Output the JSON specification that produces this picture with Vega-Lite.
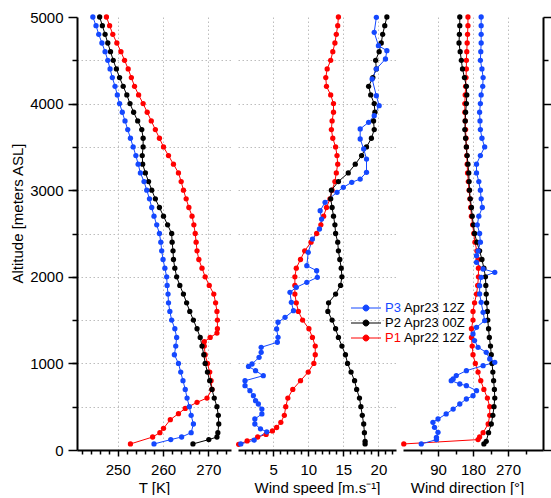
{
  "$schema": "https://vega.github.io/schema/vega-lite/v6.json",
  "background": "white",
  "padding": {"left": 10, "top": 10, "right": 0, "bottom": 0},
  "config": {
    "view": {"stroke": null},
    "axis": {
      "domainColor": "black", "domainWidth": 2, "tickColor": "black", "tickWidth": 1.5,
      "labelFont": "Liberation Sans", "labelFontSize": 15, "labelColor": "black",
      "titleFont": "Liberation Sans", "titleFontSize": 15, "titleFontWeight": "normal", "titleColor": "black",
      "gridColor": "#bdbdbd", "gridDash": [1.5, 2.5], "gridWidth": 1
    },
    "legend": {"labelFont": "Liberation Sans", "labelFontSize": 13, "labelColor": "black", "padding": 0}
  },
  "datasets": {
    "dates": [
      {"p": "P1", "d": "Apr22 12Z"}, {"p": "P2", "d": "Apr23 00Z"}, {"p": "P3", "d": "Apr23 12Z"}
    ],
    "t": [
      {"p":"P1","a":70,"v":252.8},{"p":"P1","a":150,"v":257.7},{"p":"P1","a":200,"v":259.3},{"p":"P1","a":250,"v":260.1},{"p":"P1","a":350,"v":261.6},{"p":"P1","a":420,"v":263.4},{"p":"P1","a":480,"v":264.9},{"p":"P1","a":550,"v":267.5},{"p":"P1","a":600,"v":269.7},{"p":"P1","a":700,"v":270.8},{"p":"P1","a":800,"v":270.6},{"p":"P1","a":900,"v":270.3},{"p":"P1","a":1000,"v":269.8},{"p":"P1","a":1100,"v":269.3},{"p":"P1","a":1200,"v":269.1},{"p":"P1","a":1250,"v":269.1},{"p":"P1","a":1300,"v":270.4},{"p":"P1","a":1350,"v":271.9},{"p":"P1","a":1400,"v":272.0},{"p":"P1","a":1500,"v":272.0},{"p":"P1","a":1600,"v":271.9},{"p":"P1","a":1700,"v":271.6},{"p":"P1","a":1800,"v":271.2},{"p":"P1","a":1900,"v":270.2},{"p":"P1","a":2000,"v":269.3},{"p":"P1","a":2100,"v":268.6},{"p":"P1","a":2200,"v":267.9},{"p":"P1","a":2300,"v":267.5},{"p":"P1","a":2400,"v":267.3},{"p":"P1","a":2500,"v":267.1},{"p":"P1","a":2600,"v":266.8},{"p":"P1","a":2700,"v":266.4},{"p":"P1","a":2800,"v":265.7},{"p":"P1","a":2900,"v":265.1},{"p":"P1","a":3000,"v":264.5},{"p":"P1","a":3100,"v":264.0},{"p":"P1","a":3200,"v":263.4},{"p":"P1","a":3300,"v":262.3},{"p":"P1","a":3400,"v":261.2},{"p":"P1","a":3500,"v":260.1},{"p":"P1","a":3600,"v":259.2},{"p":"P1","a":3700,"v":258.3},{"p":"P1","a":3800,"v":257.4},{"p":"P1","a":3900,"v":256.5},{"p":"P1","a":4000,"v":255.6},{"p":"P1","a":4100,"v":254.6},{"p":"P1","a":4200,"v":253.7},{"p":"P1","a":4300,"v":253.0},{"p":"P1","a":4400,"v":252.3},{"p":"P1","a":4500,"v":251.5},{"p":"P1","a":4600,"v":250.7},{"p":"P1","a":4700,"v":249.8},{"p":"P1","a":4800,"v":248.9},{"p":"P1","a":4900,"v":248.2},{"p":"P1","a":5000,"v":247.5},
      {"p":"P2","a":70,"v":266.6},{"p":"P2","a":120,"v":270.1},{"p":"P2","a":150,"v":271.9},{"p":"P2","a":200,"v":272.1},{"p":"P2","a":300,"v":272.3},{"p":"P2","a":400,"v":272.2},{"p":"P2","a":500,"v":271.9},{"p":"P2","a":600,"v":271.3},{"p":"P2","a":700,"v":270.8},{"p":"P2","a":800,"v":270.3},{"p":"P2","a":900,"v":269.8},{"p":"P2","a":1000,"v":269.3},{"p":"P2","a":1100,"v":269.0},{"p":"P2","a":1200,"v":268.6},{"p":"P2","a":1300,"v":268.2},{"p":"P2","a":1400,"v":267.5},{"p":"P2","a":1500,"v":266.7},{"p":"P2","a":1600,"v":265.9},{"p":"P2","a":1700,"v":265.2},{"p":"P2","a":1800,"v":264.5},{"p":"P2","a":1900,"v":263.7},{"p":"P2","a":2000,"v":263.0},{"p":"P2","a":2100,"v":262.6},{"p":"P2","a":2200,"v":262.3},{"p":"P2","a":2300,"v":262.2},{"p":"P2","a":2400,"v":262.0},{"p":"P2","a":2500,"v":261.9},{"p":"P2","a":2600,"v":261.0},{"p":"P2","a":2700,"v":260.1},{"p":"P2","a":2800,"v":259.2},{"p":"P2","a":2900,"v":258.3},{"p":"P2","a":3000,"v":257.5},{"p":"P2","a":3100,"v":256.8},{"p":"P2","a":3200,"v":256.1},{"p":"P2","a":3300,"v":255.5},{"p":"P2","a":3400,"v":255.4},{"p":"P2","a":3500,"v":255.6},{"p":"P2","a":3600,"v":255.6},{"p":"P2","a":3700,"v":255.3},{"p":"P2","a":3800,"v":254.4},{"p":"P2","a":3900,"v":253.5},{"p":"P2","a":4000,"v":252.7},{"p":"P2","a":4100,"v":252.0},{"p":"P2","a":4200,"v":251.2},{"p":"P2","a":4300,"v":250.4},{"p":"P2","a":4400,"v":249.7},{"p":"P2","a":4500,"v":249.0},{"p":"P2","a":4600,"v":248.4},{"p":"P2","a":4700,"v":247.8},{"p":"P2","a":4800,"v":247.2},{"p":"P2","a":4900,"v":246.6},{"p":"P2","a":5000,"v":246.0},
      {"p":"P3","a":70,"v":258.0},{"p":"P3","a":120,"v":261.7},{"p":"P3","a":150,"v":264.1},{"p":"P3","a":200,"v":266.2},{"p":"P3","a":300,"v":266.7},{"p":"P3","a":400,"v":266.2},{"p":"P3","a":500,"v":265.8},{"p":"P3","a":600,"v":265.3},{"p":"P3","a":700,"v":264.9},{"p":"P3","a":800,"v":264.4},{"p":"P3","a":900,"v":263.9},{"p":"P3","a":1000,"v":263.4},{"p":"P3","a":1100,"v":262.5},{"p":"P3","a":1200,"v":262.8},{"p":"P3","a":1300,"v":263.0},{"p":"P3","a":1400,"v":262.6},{"p":"P3","a":1500,"v":261.9},{"p":"P3","a":1600,"v":261.5},{"p":"P3","a":1700,"v":261.2},{"p":"P3","a":1800,"v":261.1},{"p":"P3","a":1900,"v":260.9},{"p":"P3","a":2000,"v":260.8},{"p":"P3","a":2100,"v":260.4},{"p":"P3","a":2200,"v":260.0},{"p":"P3","a":2300,"v":259.7},{"p":"P3","a":2400,"v":259.5},{"p":"P3","a":2500,"v":259.2},{"p":"P3","a":2600,"v":258.6},{"p":"P3","a":2700,"v":258.0},{"p":"P3","a":2800,"v":257.5},{"p":"P3","a":2900,"v":257.0},{"p":"P3","a":3000,"v":256.4},{"p":"P3","a":3100,"v":255.8},{"p":"P3","a":3200,"v":255.0},{"p":"P3","a":3300,"v":254.5},{"p":"P3","a":3400,"v":254.0},{"p":"P3","a":3500,"v":253.4},{"p":"P3","a":3600,"v":252.8},{"p":"P3","a":3700,"v":252.2},{"p":"P3","a":3800,"v":251.6},{"p":"P3","a":3900,"v":251.0},{"p":"P3","a":4000,"v":250.4},{"p":"P3","a":4100,"v":249.9},{"p":"P3","a":4200,"v":249.4},{"p":"P3","a":4300,"v":248.8},{"p":"P3","a":4400,"v":248.3},{"p":"P3","a":4500,"v":247.8},{"p":"P3","a":4600,"v":247.2},{"p":"P3","a":4700,"v":246.5},{"p":"P3","a":4800,"v":245.8},{"p":"P3","a":4900,"v":245.2},{"p":"P3","a":5000,"v":244.5}
    ],
    "ws": [
      {"p":"P1","a":65,"v":0.1},{"p":"P1","a":105,"v":1.3},{"p":"P1","a":150,"v":2.8},{"p":"P1","a":180,"v":4.0},{"p":"P1","a":220,"v":4.9},{"p":"P1","a":260,"v":5.5},{"p":"P1","a":320,"v":6.1},{"p":"P1","a":400,"v":6.6},{"p":"P1","a":500,"v":6.8},{"p":"P1","a":600,"v":7.1},{"p":"P1","a":700,"v":7.8},{"p":"P1","a":800,"v":8.9},{"p":"P1","a":900,"v":10.0},{"p":"P1","a":1000,"v":10.8},{"p":"P1","a":1100,"v":11.0},{"p":"P1","a":1200,"v":11.0},{"p":"P1","a":1300,"v":10.6},{"p":"P1","a":1400,"v":10.1},{"p":"P1","a":1500,"v":9.2},{"p":"P1","a":1600,"v":8.6},{"p":"P1","a":1700,"v":8.3},{"p":"P1","a":1800,"v":8.1},{"p":"P1","a":1900,"v":8.1},{"p":"P1","a":2000,"v":8.1},{"p":"P1","a":2100,"v":8.3},{"p":"P1","a":2200,"v":8.9},{"p":"P1","a":2300,"v":9.5},{"p":"P1","a":2400,"v":10.4},{"p":"P1","a":2500,"v":11.2},{"p":"P1","a":2600,"v":11.8},{"p":"P1","a":2700,"v":12.2},{"p":"P1","a":2800,"v":12.6},{"p":"P1","a":2900,"v":13.1},{"p":"P1","a":3000,"v":13.4},{"p":"P1","a":3100,"v":13.8},{"p":"P1","a":3200,"v":14.0},{"p":"P1","a":3300,"v":14.2},{"p":"P1","a":3400,"v":14.1},{"p":"P1","a":3500,"v":13.9},{"p":"P1","a":3600,"v":13.5},{"p":"P1","a":3700,"v":13.3},{"p":"P1","a":3800,"v":13.4},{"p":"P1","a":3900,"v":13.6},{"p":"P1","a":4000,"v":13.6},{"p":"P1","a":4100,"v":13.2},{"p":"P1","a":4200,"v":12.6},{"p":"P1","a":4300,"v":12.5},{"p":"P1","a":4400,"v":12.7},{"p":"P1","a":4500,"v":13.2},{"p":"P1","a":4600,"v":13.5},{"p":"P1","a":4700,"v":13.8},{"p":"P1","a":4800,"v":14.0},{"p":"P1","a":4900,"v":14.2},{"p":"P1","a":5000,"v":14.3},
      {"p":"P2","a":70,"v":18.1},{"p":"P2","a":100,"v":18.1},{"p":"P2","a":200,"v":18.0},{"p":"P2","a":300,"v":17.9},{"p":"P2","a":400,"v":17.7},{"p":"P2","a":500,"v":17.5},{"p":"P2","a":600,"v":17.3},{"p":"P2","a":700,"v":16.9},{"p":"P2","a":800,"v":16.6},{"p":"P2","a":900,"v":16.1},{"p":"P2","a":1000,"v":15.6},{"p":"P2","a":1100,"v":15.3},{"p":"P2","a":1200,"v":14.8},{"p":"P2","a":1300,"v":14.3},{"p":"P2","a":1400,"v":13.9},{"p":"P2","a":1500,"v":13.4},{"p":"P2","a":1600,"v":12.8},{"p":"P2","a":1700,"v":12.9},{"p":"P2","a":1800,"v":13.9},{"p":"P2","a":1900,"v":14.6},{"p":"P2","a":2000,"v":14.8},{"p":"P2","a":2100,"v":14.7},{"p":"P2","a":2200,"v":14.5},{"p":"P2","a":2300,"v":14.3},{"p":"P2","a":2400,"v":14.2},{"p":"P2","a":2500,"v":13.9},{"p":"P2","a":2600,"v":13.8},{"p":"P2","a":2700,"v":13.6},{"p":"P2","a":2800,"v":13.4},{"p":"P2","a":2900,"v":13.2},{"p":"P2","a":3000,"v":13.3},{"p":"P2","a":3100,"v":14.3},{"p":"P2","a":3200,"v":15.7},{"p":"P2","a":3300,"v":16.7},{"p":"P2","a":3400,"v":17.6},{"p":"P2","a":3500,"v":18.3},{"p":"P2","a":3600,"v":19.0},{"p":"P2","a":3700,"v":19.4},{"p":"P2","a":3800,"v":19.3},{"p":"P2","a":3900,"v":19.5},{"p":"P2","a":4000,"v":19.4},{"p":"P2","a":4100,"v":18.9},{"p":"P2","a":4200,"v":18.6},{"p":"P2","a":4300,"v":19.2},{"p":"P2","a":4400,"v":19.7},{"p":"P2","a":4500,"v":19.6},{"p":"P2","a":4600,"v":20.1},{"p":"P2","a":4700,"v":20.4},{"p":"P2","a":4800,"v":20.6},{"p":"P2","a":4900,"v":20.9},{"p":"P2","a":5000,"v":21.2},
      {"p":"P3","a":70,"v":0.4},{"p":"P3","a":115,"v":2.3},{"p":"P3","a":210,"v":4.1},{"p":"P3","a":245,"v":3.2},{"p":"P3","a":300,"v":2.4},{"p":"P3","a":358,"v":2.4},{"p":"P3","a":416,"v":3.4},{"p":"P3","a":473,"v":3.4},{"p":"P3","a":531,"v":2.9},{"p":"P3","a":570,"v":2.5},{"p":"P3","a":627,"v":2.2},{"p":"P3","a":685,"v":1.7},{"p":"P3","a":743,"v":1.0},{"p":"P3","a":800,"v":1.0},{"p":"P3","a":858,"v":3.6},{"p":"P3","a":916,"v":2.5},{"p":"P3","a":965,"v":1.5},{"p":"P3","a":993,"v":2.0},{"p":"P3","a":1070,"v":3.0},{"p":"P3","a":1128,"v":3.3},{"p":"P3","a":1186,"v":3.3},{"p":"P3","a":1244,"v":5.6},{"p":"P3","a":1301,"v":5.7},{"p":"P3","a":1397,"v":5.5},{"p":"P3","a":1475,"v":5.7},{"p":"P3","a":1532,"v":6.7},{"p":"P3","a":1609,"v":7.9},{"p":"P3","a":1705,"v":7.6},{"p":"P3","a":1821,"v":7.4},{"p":"P3","a":1878,"v":8.3},{"p":"P3","a":1936,"v":9.8},{"p":"P3","a":1994,"v":11.3},{"p":"P3","a":2071,"v":11.2},{"p":"P3","a":2128,"v":9.8},{"p":"P3","a":2283,"v":10.0},{"p":"P3","a":2436,"v":10.6},{"p":"P3","a":2552,"v":11.6},{"p":"P3","a":2667,"v":11.9},{"p":"P3","a":2763,"v":11.7},{"p":"P3","a":2860,"v":12.4},{"p":"P3","a":2976,"v":14.1},{"p":"P3","a":3033,"v":15.0},{"p":"P3","a":3091,"v":16.2},{"p":"P3","a":3129,"v":17.4},{"p":"P3","a":3207,"v":18.3},{"p":"P3","a":3360,"v":18.3},{"p":"P3","a":3476,"v":17.9},{"p":"P3","a":3591,"v":17.4},{"p":"P3","a":3707,"v":17.4},{"p":"P3","a":3784,"v":18.6},{"p":"P3","a":3860,"v":19.4},{"p":"P3","a":3976,"v":20.1},{"p":"P3","a":4091,"v":19.7},{"p":"P3","a":4284,"v":19.1},{"p":"P3","a":4400,"v":19.7},{"p":"P3","a":4515,"v":21.0},{"p":"P3","a":4611,"v":21.2},{"p":"P3","a":4669,"v":20.0},{"p":"P3","a":4823,"v":19.4},{"p":"P3","a":4996,"v":19.7}
    ],
    "wd": [
      {"p":"P1","a":70,"v":2},{"p":"P1","a":120,"v":193},{"p":"P1","a":150,"v":197},{"p":"P1","a":200,"v":206},{"p":"P1","a":300,"v":219},{"p":"P1","a":400,"v":223},{"p":"P1","a":500,"v":223},{"p":"P1","a":600,"v":217},{"p":"P1","a":700,"v":208},{"p":"P1","a":800,"v":200},{"p":"P1","a":900,"v":193},{"p":"P1","a":1000,"v":186},{"p":"P1","a":1100,"v":180},{"p":"P1","a":1200,"v":178},{"p":"P1","a":1300,"v":176},{"p":"P1","a":1400,"v":176},{"p":"P1","a":1500,"v":180},{"p":"P1","a":1600,"v":180},{"p":"P1","a":1700,"v":184},{"p":"P1","a":1800,"v":189},{"p":"P1","a":1900,"v":192},{"p":"P1","a":2000,"v":194},{"p":"P1","a":2100,"v":194},{"p":"P1","a":2200,"v":193},{"p":"P1","a":2300,"v":190},{"p":"P1","a":2400,"v":185},{"p":"P1","a":2500,"v":182},{"p":"P1","a":2600,"v":179},{"p":"P1","a":2700,"v":176},{"p":"P1","a":2800,"v":174},{"p":"P1","a":2900,"v":172},{"p":"P1","a":3000,"v":170},{"p":"P1","a":3100,"v":168},{"p":"P1","a":3200,"v":166},{"p":"P1","a":3300,"v":165},{"p":"P1","a":3400,"v":164},{"p":"P1","a":3500,"v":163},{"p":"P1","a":3600,"v":162},{"p":"P1","a":3700,"v":161},{"p":"P1","a":3800,"v":160},{"p":"P1","a":3900,"v":159},{"p":"P1","a":4000,"v":159},{"p":"P1","a":4100,"v":160},{"p":"P1","a":4200,"v":161},{"p":"P1","a":4300,"v":162},{"p":"P1","a":4400,"v":163},{"p":"P1","a":4500,"v":163},{"p":"P1","a":4600,"v":164},{"p":"P1","a":4700,"v":165},{"p":"P1","a":4800,"v":166},{"p":"P1","a":4900,"v":167},{"p":"P1","a":5000,"v":167},
      {"p":"P2","a":70,"v":208},{"p":"P2","a":100,"v":214},{"p":"P2","a":200,"v":220},{"p":"P2","a":300,"v":227},{"p":"P2","a":400,"v":231},{"p":"P2","a":500,"v":234},{"p":"P2","a":600,"v":236},{"p":"P2","a":700,"v":235},{"p":"P2","a":800,"v":233},{"p":"P2","a":900,"v":231},{"p":"P2","a":1000,"v":229},{"p":"P2","a":1100,"v":227},{"p":"P2","a":1200,"v":225},{"p":"P2","a":1300,"v":222},{"p":"P2","a":1400,"v":220},{"p":"P2","a":1500,"v":218},{"p":"P2","a":1600,"v":217},{"p":"P2","a":1700,"v":215},{"p":"P2","a":1800,"v":214},{"p":"P2","a":1900,"v":213},{"p":"P2","a":2000,"v":212},{"p":"P2","a":2100,"v":208},{"p":"P2","a":2200,"v":203},{"p":"P2","a":2300,"v":197},{"p":"P2","a":2400,"v":190},{"p":"P2","a":2500,"v":184},{"p":"P2","a":2600,"v":181},{"p":"P2","a":2700,"v":178},{"p":"P2","a":2800,"v":176},{"p":"P2","a":2900,"v":173},{"p":"P2","a":3000,"v":171},{"p":"P2","a":3100,"v":170},{"p":"P2","a":3200,"v":169},{"p":"P2","a":3300,"v":167},{"p":"P2","a":3400,"v":165},{"p":"P2","a":3500,"v":163},{"p":"P2","a":3600,"v":161},{"p":"P2","a":3700,"v":159},{"p":"P2","a":3800,"v":160},{"p":"P2","a":3900,"v":161},{"p":"P2","a":4000,"v":163},{"p":"P2","a":4100,"v":164},{"p":"P2","a":4200,"v":163},{"p":"P2","a":4300,"v":158},{"p":"P2","a":4400,"v":153},{"p":"P2","a":4500,"v":150},{"p":"P2","a":4600,"v":147},{"p":"P2","a":4700,"v":144},{"p":"P2","a":4800,"v":145},{"p":"P2","a":4900,"v":146},{"p":"P2","a":5000,"v":146},
      {"p":"P3","a":70,"v":47},{"p":"P3","a":120,"v":86},{"p":"P3","a":146,"v":86},{"p":"P3","a":204,"v":90},{"p":"P3","a":262,"v":81},{"p":"P3","a":320,"v":77},{"p":"P3","a":358,"v":90},{"p":"P3","a":416,"v":111},{"p":"P3","a":473,"v":129},{"p":"P3","a":531,"v":146},{"p":"P3","a":589,"v":163},{"p":"P3","a":627,"v":180},{"p":"P3","a":685,"v":189},{"p":"P3","a":743,"v":163},{"p":"P3","a":762,"v":146},{"p":"P3","a":801,"v":124},{"p":"P3","a":820,"v":129},{"p":"P3","a":859,"v":137},{"p":"P3","a":916,"v":163},{"p":"P3","a":974,"v":206},{"p":"P3","a":1013,"v":236},{"p":"P3","a":1051,"v":223},{"p":"P3","a":1128,"v":214},{"p":"P3","a":1186,"v":193},{"p":"P3","a":1263,"v":184},{"p":"P3","a":1340,"v":180},{"p":"P3","a":1417,"v":189},{"p":"P3","a":1494,"v":210},{"p":"P3","a":1590,"v":206},{"p":"P3","a":1705,"v":201},{"p":"P3","a":1802,"v":197},{"p":"P3","a":1898,"v":197},{"p":"P3","a":1994,"v":201},{"p":"P3","a":2052,"v":236},{"p":"P3","a":2090,"v":206},{"p":"P3","a":2167,"v":189},{"p":"P3","a":2244,"v":189},{"p":"P3","a":2300,"v":193},{"p":"P3","a":2400,"v":199},{"p":"P3","a":2500,"v":197},{"p":"P3","a":2600,"v":191},{"p":"P3","a":2700,"v":195},{"p":"P3","a":2800,"v":204},{"p":"P3","a":2900,"v":201},{"p":"P3","a":3000,"v":199},{"p":"P3","a":3100,"v":195},{"p":"P3","a":3200,"v":189},{"p":"P3","a":3300,"v":189},{"p":"P3","a":3400,"v":199},{"p":"P3","a":3500,"v":210},{"p":"P3","a":3600,"v":203},{"p":"P3","a":3700,"v":199},{"p":"P3","a":3800,"v":198},{"p":"P3","a":3900,"v":197},{"p":"P3","a":4000,"v":199},{"p":"P3","a":4100,"v":201},{"p":"P3","a":4200,"v":205},{"p":"P3","a":4300,"v":206},{"p":"P3","a":4400,"v":203},{"p":"P3","a":4500,"v":199},{"p":"P3","a":4600,"v":200},{"p":"P3","a":4700,"v":201},{"p":"P3","a":4800,"v":201},{"p":"P3","a":4900,"v":201},{"p":"P3","a":5000,"v":201}
    ]
  },
  "spacing": 7,
  "bounds": "flush",
  "resolve": {
    "scale": {"x": "independent", "y": "independent", "color": "independent", "shape": "independent"},
    "legend": {"color": "independent", "shape": "independent"}
  },
  "hconcat": [
    {
      "width": 154, "height": 433,
      "data": {"name": "t"},
      "encoding": {
        "color": {"field": "p", "type": "nominal", "scale": {"domain": ["P3", "P2", "P1"], "range": ["#1448ff", "#000000", "#ff0000"]}, "legend": null}
      },
      "layer": [
        {
          "mark": {"type": "line", "strokeWidth": 1, "clip": false},
          "encoding": {
            "x": {"field": "v", "type": "quantitative", "scale": {"domain": [241, 275], "nice": false, "zero": false},
              "axis": {"orient": "bottom", "values": [250, 260, 270], "title": "T [K]", "grid": true, "tickSize": 6, "labelPadding": 6, "titlePadding": 3}},
            "y": {"field": "a", "type": "quantitative", "scale": {"domain": [0, 5000], "nice": false},
              "axis": {"orient": "left", "values": [0, 1000, 2000, 3000, 4000, 5000], "format": "d", "grid": false, "tickSize": 9, "labelPadding": 5,
                "title": "Altitude [meters ASL]", "titleX": -60, "titleY": 196, "titleAngle": -90, "titleBaseline": "middle", "titleAlign": "center"}},
            "order": {"field": "a", "type": "quantitative"}
          }
        },
        {
          "mark": {"type": "point", "filled": true, "size": 28, "opacity": 1, "clip": false},
          "encoding": {
            "x": {"field": "v", "type": "quantitative",
              "axis": {"orient": "bottom", "values": [242, 244, 246, 248, 252, 254, 256, 258, 262, 264, 266, 268, 272, 274], "labels": false, "domain": false, "grid": false, "tickSize": 4, "title": null}},
            "y": {"field": "a", "type": "quantitative",
              "axis": {"orient": "left", "values": [500, 1000, 1500, 2000, 2500, 3000, 3500, 4000, 4500], "labels": false, "domain": false, "grid": true, "tickSize": 5, "title": null}}
          }
        }
      ],
      "resolve": {"axis": {"x": "independent", "y": "independent"}}
    },
    {
      "width": 158, "height": 433,
      "data": {"name": "ws"},
      "transform": [{"lookup": "p", "from": {"data": {"name": "dates"}, "key": "p", "fields": ["d"]}}],
      "encoding": {
        "color": {"field": "p", "type": "nominal", "scale": {"domain": ["P3", "P2", "P1"], "range": ["#1448ff", "#000000", "#ff0000"]},
          "legend": {"orient": "none", "legendX": 121.5, "legendY": 284.5, "title": null, "padding": 0, "rowPadding": 1,
            "symbolType": "M-3,0H3M-0.6,0A0.6,0.6,0,1,1,0.6,0A0.6,0.6,0,1,1,-0.6,0Z", "symbolSize": 100, "symbolStrokeWidth": 1, "labelOffset": 12.5,
            "encode": {
              "symbols": {"update": {
                "stroke": {"signal": "datum.value === 'P3' ? '#1448ff' : datum.value === 'P1' ? '#ff0000' : '#000000'"},
                "fill": {"signal": "datum.value === 'P3' ? '#1448ff' : datum.value === 'P1' ? '#ff0000' : '#000000'"},
                "opacity": {"value": 1}}},
              "labels": {"update": {"fill": {"signal": "datum.value === 'P3' ? '#1448ff' : datum.value === 'P1' ? '#ff0000' : '#000000'"}}}
            }}}
      },
      "layer": [
        {
          "mark": {"type": "line", "strokeWidth": 1, "clip": false},
          "encoding": {
            "x": {"field": "v", "type": "quantitative", "scale": {"domain": [0, 22.5], "nice": false, "zero": false},
              "axis": {"orient": "bottom", "values": [5, 10, 15, 20], "title": "Wind speed [m.s⁻¹]", "grid": true, "tickSize": 6, "labelPadding": 6, "titlePadding": 3}},
            "y": {"field": "a", "type": "quantitative", "scale": {"domain": [0, 5000], "nice": false},
              "axis": {"orient": "left", "values": [500, 1000, 1500, 2000, 2500, 3000, 3500, 4000, 4500], "labels": false, "domain": false, "ticks": false, "grid": true, "title": null}},
            "order": {"field": "a", "type": "quantitative"}
          }
        },
        {
          "mark": {"type": "point", "filled": true, "size": 28, "opacity": 1, "clip": false},
          "encoding": {
            "x": {"field": "v", "type": "quantitative",
              "axis": {"orient": "bottom", "values": [1, 2, 3, 4, 6, 7, 8, 9, 11, 12, 13, 14, 16, 17, 18, 19, 21, 22], "labels": false, "domain": false, "grid": false, "tickSize": 4, "title": null}},
            "y": {"field": "a", "type": "quantitative", "axis": null},
            "shape": {"field": "d", "type": "nominal", "scale": {"domain": ["Apr23 12Z", "Apr23 00Z", "Apr22 12Z"], "range": ["circle", "circle", "circle"]},
              "legend": {"orient": "none", "legendX": 153, "legendY": 284.5, "title": null, "padding": 0, "rowPadding": 1, "symbolSize": 1, "symbolOpacity": 0, "labelOffset": 0}}
          }
        }
      ],
      "resolve": {"axis": {"x": "independent", "y": "independent"}}
    },
    {
      "width": 140, "height": 433,
      "data": {"name": "wd"},
      "encoding": {
        "color": {"field": "p", "type": "nominal", "scale": {"domain": ["P3", "P2", "P1"], "range": ["#1448ff", "#000000", "#ff0000"]}, "legend": null}
      },
      "layer": [
        {
          "mark": {"type": "line", "strokeWidth": 1, "clip": false},
          "encoding": {
            "x": {"field": "v", "type": "quantitative", "scale": {"domain": [0, 360], "nice": false, "zero": false},
              "axis": {"orient": "bottom", "values": [90, 180, 270], "title": "Wind direction [°]", "titleX": 64, "grid": true, "tickSize": 6, "labelPadding": 6, "titlePadding": 3}},
            "y": {"field": "a", "type": "quantitative", "scale": {"domain": [0, 5000], "nice": false},
              "axis": {"orient": "right", "values": [500, 1500, 2500, 3500, 4500], "labels": false, "domain": false, "grid": false, "tickSize": 5, "title": null}},
            "order": {"field": "a", "type": "quantitative"}
          }
        },
        {
          "mark": {"type": "point", "filled": true, "size": 28, "opacity": 1, "clip": false},
          "encoding": {
            "x": {"field": "v", "type": "quantitative",
              "axis": {"orient": "bottom", "values": [45, 135, 225, 315], "labels": false, "domain": false, "grid": false, "tickSize": 4, "title": null}},
            "y": {"field": "a", "type": "quantitative",
              "axis": {"orient": "right", "values": [0, 1000, 2000, 3000, 4000, 5000], "labels": false, "domain": true, "grid": false, "tickSize": 8, "title": null}}
          }
        }
      ],
      "resolve": {"axis": {"x": "independent", "y": "independent"}}
    }
  ]
}
